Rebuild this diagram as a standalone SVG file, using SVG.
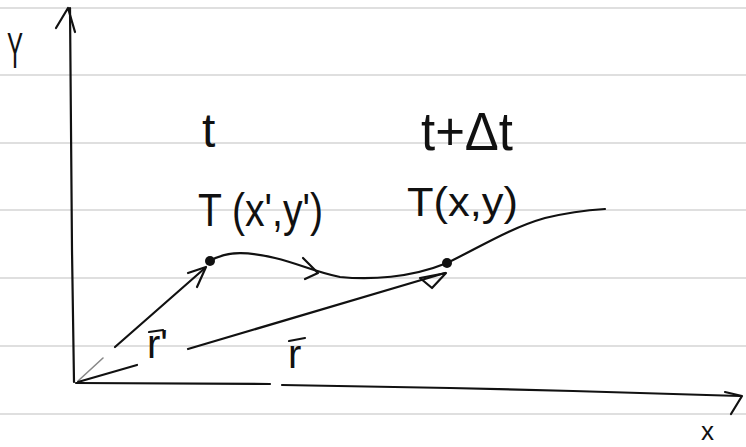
<svg xmlns="http://www.w3.org/2000/svg" width="746" height="447" viewBox="0 0 746 447">
<style>
.rule{stroke:#d4d4d4;stroke-width:1.5;fill:none}
.ink{stroke:#111;stroke-width:2.2;fill:none;stroke-linecap:round;stroke-linejoin:round}
.faint{stroke:#888;stroke-width:1.6;fill:none;stroke-linecap:round}
.lbl{font-family:"Liberation Sans","DejaVu Sans",sans-serif;fill:#111;font-weight:normal}
</style>
<rect width="746" height="447" fill="#fff"/>
<g id="ruled-lines">
<line class="rule" x1="0" y1="8" x2="746" y2="8"/>
<line class="rule" x1="0" y1="75" x2="746" y2="75"/>
<line class="rule" x1="0" y1="143" x2="746" y2="143"/>
<line class="rule" x1="0" y1="210" x2="746" y2="210"/>
<line class="rule" x1="0" y1="278" x2="746" y2="278"/>
<line class="rule" x1="0" y1="346" x2="746" y2="346"/>
<line class="rule" x1="0" y1="414" x2="746" y2="414"/>
</g>
<g id="axis-y">
<path class="ink" d="M74 382 L72 250 L70 8"/>
<path class="ink" d="M56 28 L68 8 L75 32"/>
<text class="lbl" x="7" y="68" font-size="50" textLength="16" lengthAdjust="spacingAndGlyphs">Y</text>
</g>
<g id="axis-x">
<path class="ink" d="M76 383 L270 384"/>
<path class="ink" d="M282 385 L450 388 L573 391 L740 396"/>
<path class="ink" d="M725 392 L742 396 L731 414"/>
<text class="lbl" x="701" y="440" font-size="26">x</text>
</g>
<g id="label-t">
<text class="lbl" x="202" y="147" font-size="48">t</text>
</g>
<g id="label-t-dt">
<text class="lbl" x="421" y="150" font-size="54" textLength="92" lengthAdjust="spacingAndGlyphs">t+Δt</text>
</g>
<g id="point-T1">
<text class="lbl" x="198" y="226" font-size="46" textLength="125" lengthAdjust="spacingAndGlyphs">T (x',y')</text>
<circle cx="210" cy="261" r="5" fill="#111"/>
</g>
<g id="point-T2">
<text class="lbl" x="407" y="216" font-size="40" textLength="111" lengthAdjust="spacingAndGlyphs">T(x,y)</text>
<circle cx="447" cy="263" r="5" fill="#111"/>
</g>
<g id="connectors">
<path id="trajectory" class="ink" d="M210 261 C228 250 250 252 275 258 C300 264 315 272 340 277 C370 280 410 278 447 263 C480 247 510 228 545 218 C570 212 590 210 605 209"/>
<path class="ink" d="M303 258 L318 273 L305 279"/>
<path id="vec-r-prime" class="ink" d="M115 347 L205 268"/>
<path class="faint" d="M78 381 L103 358"/>
<path class="ink" d="M188 273 L206 267 L197 287"/>
<path id="vec-r" class="ink" d="M78 382 L137 365"/>
<path class="ink" d="M188 349 L445 273"/>
<path class="ink" d="M420 278 L446 273 L432 288 Z"/>
</g>
<g id="label-r-prime">
<text class="lbl" x="147" y="358" font-size="40">r'</text>
<path class="ink" d="M149 332 L163 330"/>
</g>
<g id="label-r">
<text class="lbl" x="288" y="368" font-size="40">r</text>
<path class="ink" d="M289 341 L305 338"/>
</g>
</svg>
